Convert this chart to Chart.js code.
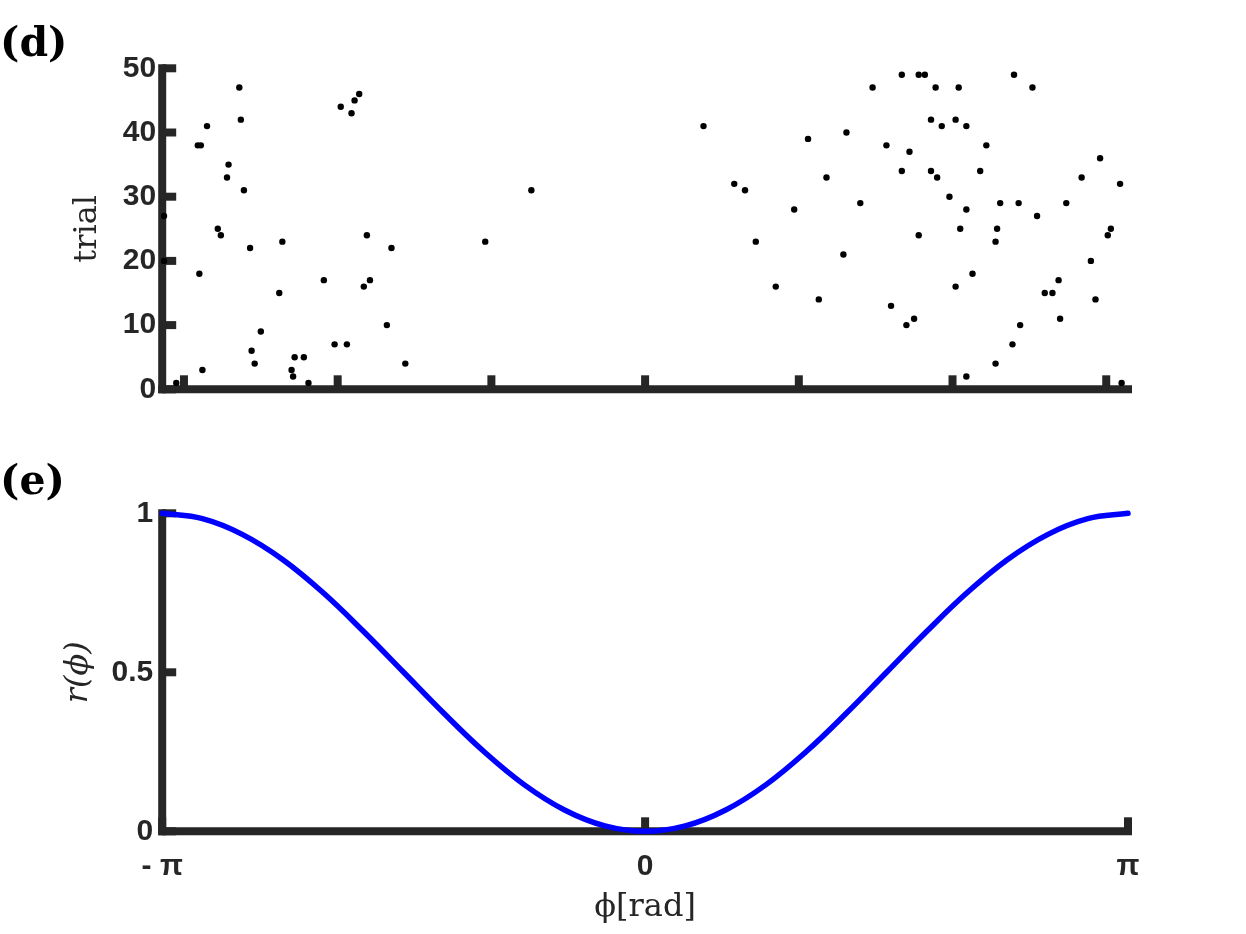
<!DOCTYPE html>
<html>
<head>
<meta charset="utf-8">
<title>Spike phases and r(phi)</title>
<script src="https://cdn.jsdelivr.net/npm/chart.js@4.4.1/dist/chart.umd.min.js"></script>
<style>
  html, body { margin: 0; padding: 0; background: #fff; }
  #wrap { position: relative; width: 1246px; height: 934px; }
  canvas { position: absolute; left: 0; }
  #rasterChart { top: 0; }
  #rateChart { top: 440px; }
</style>
</head>
<body>
<div id="wrap">
  <canvas id="rasterChart" width="1246" height="440"></canvas>
  <canvas id="rateChart" width="1246" height="494"></canvas>
</div>
<script>
// panel (d) : phase of each spike [rad] and the trial it belongs to
const spikePhase = [
  -2.64, -2.63, -2.85, -2.91, -2.89, -2.71, -2.72, -2.61, -3.13, -2.78,
  -2.76, -2.57, -2.36, -3.13, -2.90, -2.09, -2.38, -1.81, -1.65, -1.79,
  -1.83, -1.68, -2.50, -2.02, -1.94, -2.56, -2.54, -2.88, -2.28, -2.22,
  -2.30, -2.29, -2.19, -3.05, -1.98, -1.91, -1.89, -1.86, -1.56,
  -0.74, -1.04,
  1.48, 0.38, 1.06, 1.31, 1.57, 1.18, 0.58, 0.65, 0.97, 1.40,
  0.72, 1.29, 0.85, 1.13, 1.60,
  1.67, 1.78, 1.82, 2.40, 1.89, 2.04, 2.52, 1.86, 1.93, 2.02,
  2.09, 2.22, 1.72, 1.67, 1.86, 1.90, 2.18, 2.96, 2.84, 3.09,
  1.98, 2.09, 2.31, 2.43, 2.74, 2.55, 1.78, 2.05, 2.29, 2.28,
  3.03, 3.01, 2.90, 2.13, 2.02, 2.69, 2.60, 2.65, 2.93, 1.75,
  1.70, 2.44, 2.70, 2.39, 2.28, 2.09, 3.10
];
const spikeTrial = [
  47, 42, 41, 38, 38, 35, 33, 31, 27, 25,
  24, 22, 23, 20, 18, 17, 15, 24, 22, 17,
  16, 10, 9, 7, 7, 6, 4, 3, 5, 5,
  3, 2, 1, 1, 44, 43, 45, 46, 4,
  31, 23,
  47, 41, 39, 40, 38, 33, 32, 31, 28, 29,
  23, 21, 16, 14, 13,
  49, 49, 49, 49, 47, 47, 47, 42, 41, 42,
  41, 38, 37, 34, 34, 33, 34, 36, 33, 32,
  30, 28, 29, 29, 29, 27, 24, 25, 25, 23,
  25, 24, 20, 18, 16, 17, 15, 15, 14, 11,
  10, 10, 11, 7, 4, 2, 1
];

// panel (e) : r(phi)
const phiGrid = [
  -3.1416, -2.880, -2.618, -2.356, -2.094, -1.833, -1.571, -1.309, -1.047, -0.785, -0.524, -0.262,
  0,
  0.262, 0.524, 0.785, 1.047, 1.309, 1.571, 1.833, 2.094, 2.356, 2.618, 2.880, 3.1416
];
const rValues = [
  1, 0.983, 0.933, 0.854, 0.75, 0.629, 0.5, 0.371, 0.25, 0.146, 0.067, 0.017,
  0,
  0.017, 0.067, 0.146, 0.25, 0.371, 0.5, 0.629, 0.75, 0.854, 0.933, 0.983, 1
];

// ticks
const rasterXTicks = [-3, -2, -1, 0, 1, 2, 3];
const rasterYTicks = [0, 10, 20, 30, 40, 50];
const rateXTicks = [-Math.PI, 0, Math.PI];
const rateXLabels = ['- π', '0', 'π'];
const rateYTicks = [0, 0.5, 1];

const axisColor = '#262626';
const tickFont = { family: '"Liberation Sans", Arial, sans-serif', size: 30, weight: 'bold' };
const labelFont = { family: '"DejaVu Serif", serif', size: 32 };

// matlab style axes : thick lines on left/bottom, ticks pointing inwards
const matlabAxes = {
  id: 'matlabAxes',
  beforeDatasetsDraw(chart, args, opts) {
    const { ctx, chartArea: area } = chart;
    const x = chart.scales.x;
    const y = chart.scales.y;
    const seg = (x1, y1, x2, y2) => {
      ctx.beginPath();
      ctx.moveTo(x1, y1);
      ctx.lineTo(x2, y2);
      ctx.stroke();
    };
    ctx.save();
    ctx.strokeStyle = axisColor;
    ctx.lineWidth = 8;
    ctx.lineCap = 'butt';
    opts.xTicks.forEach(v => {
      const px = x.getPixelForValue(v);
      seg(px, area.bottom, px, area.bottom - 14);
    });
    opts.yTicks.forEach(v => {
      const py = y.getPixelForValue(v);
      seg(area.left, py, area.left + 14, py);
    });
    ctx.lineCap = 'square';
    seg(area.left, area.bottom, area.right, area.bottom);
    seg(area.left, area.bottom, area.left, area.top);
    ctx.restore();
  },
  afterDraw(chart, args, opts) {
    const ctx = chart.ctx;
    ctx.save();
    ctx.fillStyle = '#000';
    ctx.font = 'bold 41px "DejaVu Serif"';
    ctx.textBaseline = 'alphabetic';
    ctx.fillText(opts.label, 0, opts.labelY);
    ctx.restore();
  }
};

const noGrid = { display: false, drawTicks: false };

document.addEventListener('DOMContentLoaded', function() {
    // (d) raster
    new Chart(document.getElementById('rasterChart'), {
        type: 'scatter',
        data: {
            datasets: [{
                data: spikePhase.map((p, i) => ({ x: p, y: spikeTrial[i] })),
                backgroundColor: '#000',
                borderWidth: 0,
                pointRadius: 3.2,
                pointHoverRadius: 3.2,
                clip: false
            }]
        },
        options: {
            responsive: false,
            animation: false,
            devicePixelRatio: 1,
            layout: { padding: { left: 0, right: 118, top: 68.3, bottom: 0 } },
            plugins: {
                legend: { display: false },
                tooltip: { enabled: false },
                matlabAxes: { xTicks: rasterXTicks, yTicks: rasterYTicks, label: '(d)', labelY: 56 }
            },
            scales: {
                x: {
                    type: 'linear',
                    min: -Math.PI,
                    max: Math.PI,
                    grid: noGrid,
                    border: { display: false },
                    ticks: { display: false },
                    afterFit: s => { s.height = 50.7; }
                },
                y: {
                    min: 0,
                    max: 50,
                    afterBuildTicks: s => { s.ticks = rasterYTicks.map(v => ({ value: v })); },
                    grid: noGrid,
                    border: { display: false },
                    ticks: { font: tickFont, color: axisColor, padding: 6 },
                    title: {
                        display: true,
                        text: 'trial',
                        color: axisColor,
                        font: labelFont,
                        padding: { top: 68.8, bottom: 0 }
                    },
                    afterFit: s => { s.width = 162.2; }
                }
            }
        },
        plugins: [matlabAxes]
    });

    // (e) r(phi)
    new Chart(document.getElementById('rateChart'), {
        type: 'line',
        data: {
            datasets: [{
                data: phiGrid.map((p, i) => ({ x: p, y: rValues[i] })),
                borderColor: '#0000ff',
                borderWidth: 5.5,
                borderCapStyle: 'round',
                pointRadius: 0,
                pointHoverRadius: 0,
                tension: 0.4,
                fill: false,
                clip: false
            }]
        },
        options: {
            responsive: false,
            animation: false,
            devicePixelRatio: 1,
            layout: { padding: { left: 0, right: 118, top: 73.3, bottom: 0 } },
            plugins: {
                legend: { display: false },
                tooltip: { enabled: false },
                matlabAxes: { xTicks: rateXTicks, yTicks: rateYTicks, label: '(e)', labelY: 54 }
            },
            scales: {
                x: {
                    type: 'linear',
                    min: -Math.PI,
                    max: Math.PI,
                    afterBuildTicks: s => { s.ticks = rateXTicks.map(v => ({ value: v })); },
                    grid: noGrid,
                    border: { display: false },
                    ticks: {
                        font: tickFont,
                        color: axisColor,
                        padding: 17,
                        maxRotation: 0,
                        autoSkip: false,
                        callback: (v, i) => rateXLabels[i]
                    },
                    title: {
                        display: true,
                        text: 'ϕ[rad]',
                        color: axisColor,
                        font: labelFont,
                        padding: { top: 0, bottom: 6.8 }
                    },
                    afterFit: s => { s.height = 102.7; }
                },
                y: {
                    min: 0,
                    max: 1,
                    afterBuildTicks: s => { s.ticks = rateYTicks.map(v => ({ value: v })); },
                    grid: noGrid,
                    border: { display: false },
                    ticks: { font: tickFont, color: axisColor, padding: 9, callback: v => String(v) },
                    title: {
                        display: true,
                        text: 'r(ϕ)',
                        color: axisColor,
                        font: { family: '"DejaVu Serif", serif', size: 32, style: 'italic' },
                        padding: { top: 59.3, bottom: 0 }
                    },
                    afterFit: s => { s.width = 162.2; }
                }
            }
        },
        plugins: [matlabAxes]
    });
});
</script>
</body>
</html>
